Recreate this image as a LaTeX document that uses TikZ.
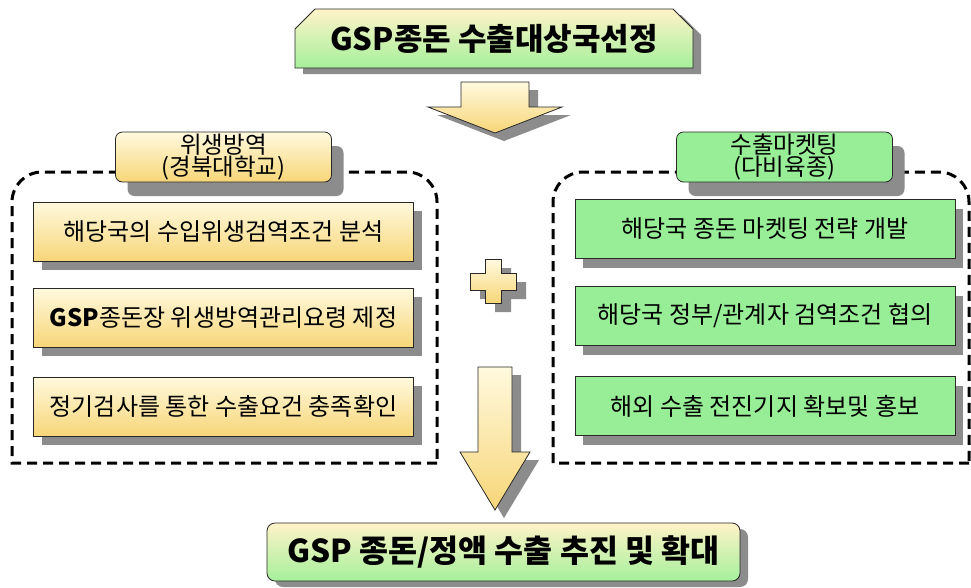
\documentclass[tikz,border=0pt]{standalone}
\usepackage{fontspec}
\setmainfont{Noto Sans CJK KR}
\usetikzlibrary{shapes.misc,shadows}
\definecolor{shadowgray}{RGB}{140,140,140}
\definecolor{ytop}{RGB}{255,249,222}
\definecolor{ybot}{RGB}{247,214,120}
\definecolor{gfill}{RGB}{152,238,150}
\definecolor{ttop}{RGB}{255,243,200}
\definecolor{tbot}{RGB}{165,240,155}
\definecolor{edge}{RGB}{40,40,40}
\tikzset{
  shad/.style={drop shadow={shadow xshift=8pt,shadow yshift=-9pt,fill=shadowgray,opacity=1}},
  lshad/.style={drop shadow={shadow xshift=12pt,shadow yshift=-14pt,fill=shadowgray,opacity=1}},
  basebox/.style={draw=edge, line width=0.8pt, minimum width=380pt, minimum height=59pt, inner sep=0pt,
    font=\fontsize{24}{26}\selectfont},
  ybox/.style={basebox, top color=ytop, bottom color=ybot, shad},
  gbox/.style={basebox, fill=gfill, shad},
  labelbox/.style={draw=edge, line width=0.8pt, rounded corners=7pt, minimum width=216pt, minimum height=50pt,
    inner sep=0pt, align=center, font=\fontsize{23.5}{22.5}\selectfont, lshad},
  dashbox/.style={draw=black, line width=3pt, dash pattern=on 10pt off 6pt},
  blockarrow/.style={draw=edge, line width=0.8pt, top color=ytop, bottom color=ybot},
  titlebox/.style={draw=edge, line width=0.8pt, top color=ttop, bottom color=tbot, inner sep=0pt,
    font=\fontsize{31}{34}\selectfont\bfseries, drop shadow={shadow xshift=8pt,shadow yshift=-6pt,fill=shadowgray,opacity=1}}
}
\begin{document}
\begin{tikzpicture}[x=1pt,y=-1pt]
\useasboundingbox (0,0) rectangle (971,587);
\fill[white] (0,0) rectangle (971,587);

% dashed containers
\draw[dashbox] (437,463) -- (12,463) -- (12,202) arc[start angle=180, end angle=270, radius=30]
  -- (407,172) arc[start angle=270, end angle=360, radius=30] -- cycle;
\draw[dashbox] (969,463) -- (553,463) -- (553,202) arc[start angle=180, end angle=270, radius=30]
  -- (939,172) arc[start angle=270, end angle=360, radius=30] -- cycle;

% top title
\node[titlebox, chamfered rectangle, chamfered rectangle corners={north west,north east},
  chamfered rectangle xsep=10pt, chamfered rectangle ysep=10pt,
  minimum width=398pt, minimum height=59pt] (top) at (494,38.5) {GSP종돈 수출대상국선정};

% top block arrow
\fill[shadowgray] (470,90) -- (538,90) -- (538,115) -- (571,115) -- (504,141) -- (437,115) -- (470,115) -- cycle;
\draw[blockarrow] (461,82) -- (529,82) -- (529,107) -- (562,107) -- (495,133) -- (428,107) -- (461,107) -- cycle;

% label boxes
\node[labelbox, top color=ytop, bottom color=ybot] (lab1) at (223.5,157) {위생방역\\(경북대학교)};
\node[labelbox, fill=gfill] (lab2) at (784.5,157) {수출마켓팅\\(다비육종)};

% left boxes
\node[ybox] (l1) at (223.5,231.5) {해당국의 수입위생검역조건 분석};
\node[ybox] (l2) at (223.5,317.5) {\textbf{GSP}종돈장 위생방역관리요령 제정};
\node[ybox] (l3) at (223.5,406.5) {정기검사를 통한 수출요건 충족확인};

% right boxes
\node[gbox] (r1) at (765,229) {해당국 종돈 마켓팅 전략 개발};
\node[gbox] (r2) at (765,316) {해당국 정부/관계자 검역조건 협의};
\node[gbox] (r3) at (765,406) {해외 수출 전진기지 확보및 홍보};

% plus sign
\fill[shadowgray] (495,268) -- (511,268) -- (511,282) -- (526,282) -- (526,299) -- (511,299) -- (511,312)
  -- (495,312) -- (495,299) -- (480,299) -- (480,282) -- (495,282) -- cycle;
\draw[blockarrow] (485,259) -- (501,259) -- (501,273) -- (516,273) -- (516,290) -- (501,290) -- (501,303)
  -- (485,303) -- (485,290) -- (470,290) -- (470,273) -- (485,273) -- cycle;

% middle block arrow
\fill[shadowgray] (487,375) -- (521,375) -- (521,460) -- (539,460) -- (504,518) -- (469,460) -- (487,460) -- cycle;
\draw[blockarrow] (478,367) -- (512,367) -- (512,452) -- (530,452) -- (495,510) -- (460,452) -- (478,452) -- cycle;

% bottom box
\node[titlebox, rounded corners=8pt, minimum width=473pt, minimum height=58pt, font=\fontsize{31.5}{34}\selectfont\bfseries]
  (bot) at (503.5,552) {GSP 종돈/정액 수출 추진 및 확대};
\end{tikzpicture}
\end{document}
